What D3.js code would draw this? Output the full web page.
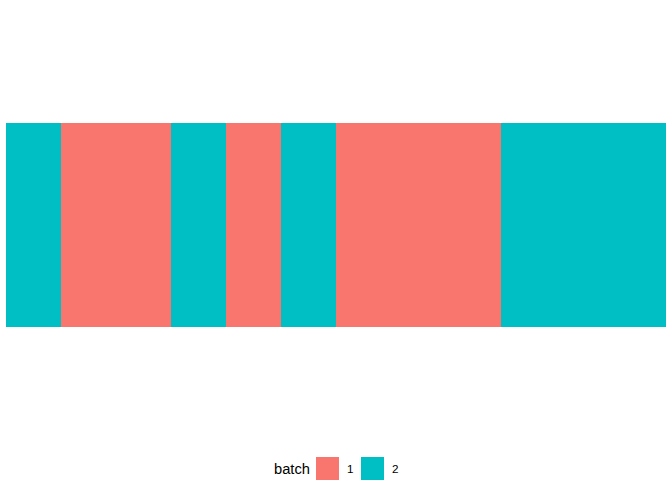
<!DOCTYPE html>
<html><head><meta charset="utf-8">
<script src="https://cdn.jsdelivr.net/npm/d3@7"></script>
<style>body{margin:0;background:#fff}svg{display:block}</style>
</head><body>
<script>
const cells = d3.range(1, 13);
const batch = ["2","1","1","2","1","2","1","1","1","2","2","2"];
const batchLevels = ["1","2"];
const colors = ["#F8766D","#00BFC4"];

const W = 672, H = 480;
const svg = d3.select("body").append("svg").attr("width", W).attr("height", H);

const x = d3.scaleBand().domain(cells).range([6, 666]).padding(0);
const y = d3.scaleBand().domain(["a"]).range([123, 327]).padding(0);
const color = d3.scaleOrdinal().domain(batchLevels).range(colors);

svg.append("g").attr("shape-rendering", "crispEdges").selectAll("rect").data(cells).join("rect")
  .attr("x", d => x(d)).attr("y", y("a"))
  .attr("width", x.bandwidth()).attr("height", y.bandwidth())
  .attr("fill", (d, i) => color(batch[i]));

const leg = svg.append("g");
leg.append("text").attr("x", 274).attr("y", 474).text("batch")
  .attr("font-family", "Liberation Sans, Arial, sans-serif").attr("font-size", 14.7).attr("fill", "#000");
const keyX = d3.scaleOrdinal().domain(batchLevels).range([316, 361]);
batchLevels.forEach(l => {
  leg.append("rect").attr("x", keyX(l)).attr("y", 457).attr("width", 23).attr("height", 23).attr("fill", color(l));
  leg.append("text").attr("x", keyX(l) + 31).attr("y", 472.5).text(l)
    .attr("font-family", "Liberation Sans, Arial, sans-serif").attr("font-size", 11.7).attr("fill", "#000");
});
</script>
</body></html>
